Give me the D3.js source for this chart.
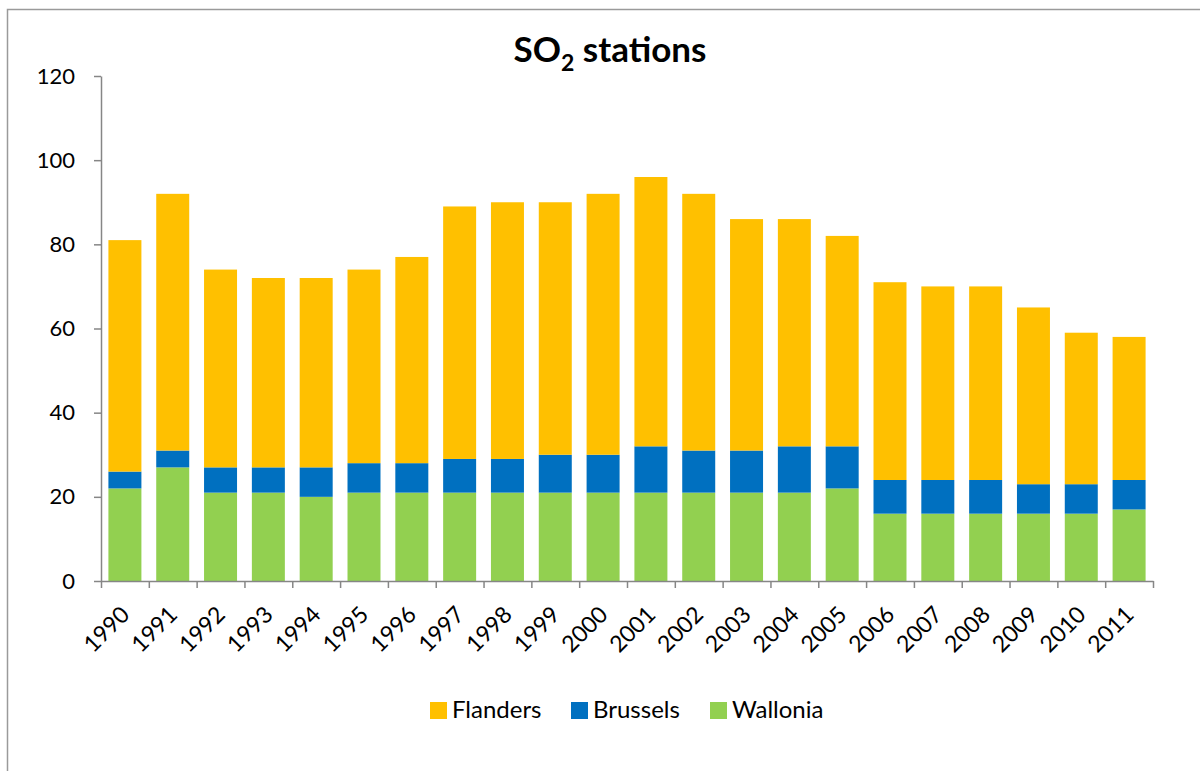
<!DOCTYPE html>
<html>
<head>
<meta charset="utf-8">
<script src="https://cdn.jsdelivr.net/npm/d3@7"></script>
<style>
  html, body { margin: 0; padding: 0; background: #fff; }
  svg { display: block; font-family: Lato, "Liberation Sans", sans-serif; }
</style>
</head>
<body>
<svg id="chart" width="1200" height="771"></svg>
<script>
// Number of SO2 monitoring stations per region
const years = ["1990","1991","1992","1993","1994","1995","1996","1997","1998","1999","2000",
               "2001","2002","2003","2004","2005","2006","2007","2008","2009","2010","2011"];
const wallonia = [22, 27, 21, 21, 20, 21, 21, 21, 21, 21, 21, 21, 21, 21, 21, 22, 16, 16, 16, 16, 16, 17];
const brussels = [ 4,  4,  6,  6,  7,  7,  7,  8,  8,  9,  9, 11, 10, 10, 11, 10,  8,  8,  8,  7,  7,  7];
const flanders = [55, 61, 47, 45, 45, 46, 49, 60, 61, 60, 62, 64, 61, 55, 54, 50, 47, 46, 46, 42, 36, 34];
const yTicks = [0, 20, 40, 60, 80, 100, 120];

const seriesNames = ["Wallonia", "Brussels", "Flanders"];
const colors = { Flanders: "#FFC000", Brussels: "#0070C0", Wallonia: "#92D050" };

const rows = years.map((yr, i) => ({
  year: yr, Wallonia: wallonia[i], Brussels: brussels[i], Flanders: flanders[i]
}));

const svg = d3.select("#chart");
const axisColor = "#868686";

// outer chart frame
svg.append("rect")
  .attr("x", 7.5).attr("y", 9.5)
  .attr("width", 1300).attr("height", 900)
  .attr("fill", "none").attr("stroke", "#9a9a9a").attr("stroke-width", 1.5);

const plotLeft = 101, plotRight = 1153, plotTop = 76, plotBottom = 581;

const x = d3.scaleBand().domain(years).range([plotLeft, plotRight])
  .paddingInner(0.31).paddingOuter(0.155);
const y = d3.scaleLinear().domain([0, 120]).range([plotBottom, plotTop]);

// stacked bars
const stacked = d3.stack().keys(seriesNames)(rows);
svg.append("g").selectAll("g")
  .data(stacked).join("g")
  .attr("fill", d => colors[d.key])
  .selectAll("rect")
  .data(d => d).join("rect")
  .attr("x", d => x(d.data.year))
  .attr("width", x.bandwidth())
  .attr("y", d => y(d[1]))
  .attr("height", d => y(d[0]) - y(d[1]));

// y axis
const yAxis = svg.append("g")
  .attr("transform", `translate(${plotLeft},0)`)
  .call(d3.axisLeft(y).tickValues(yTicks).tickSize(7).tickPadding(19).tickSizeOuter(0));
yAxis.select(".domain").attr("stroke", axisColor).attr("stroke-width", 1.5);
yAxis.selectAll(".tick line").attr("stroke", axisColor).attr("stroke-width", 1.5);
yAxis.selectAll(".tick text")
  .attr("font-family", "Lato, sans-serif").attr("font-size", 22).attr("fill", "#000");

// x axis: tick marks sit on category boundaries
const xEdges = d3.scaleLinear().domain([0, years.length]).range([plotLeft, plotRight]);
const xAxis = svg.append("g")
  .attr("transform", `translate(0,${plotBottom})`)
  .call(d3.axisBottom(xEdges).tickValues(d3.range(0, years.length + 1))
    .tickSize(7).tickSizeOuter(0).tickFormat(""));
xAxis.select(".domain").attr("stroke", axisColor).attr("stroke-width", 1.5);
xAxis.selectAll(".tick line").attr("stroke", axisColor).attr("stroke-width", 1.5);

// rotated year labels
svg.append("g").selectAll("text")
  .data(years).join("text")
  .attr("transform", d => `translate(${x(d) + x.bandwidth() / 2 + 6},${plotBottom + 35}) rotate(-45)`)
  .attr("text-anchor", "end")
  .attr("font-size", 23)
  .attr("fill", "#000")
  .text(d => d);

// title
const title = svg.append("text")
  .attr("x", 610).attr("y", 62)
  .attr("text-anchor", "middle")
  .attr("font-size", 35).attr("font-weight", "bold").attr("fill", "#000");
title.append("tspan").text("SO");
title.append("tspan").attr("font-size", 23).attr("dy", 9).text("2");
title.append("tspan").attr("dy", -9).text(" stations");

// legend
const legendItems = [
  { key: "Flanders", x: 430 },
  { key: "Brussels", x: 571 },
  { key: "Wallonia", x: 710 }
];
const lg = svg.append("g").selectAll("g")
  .data(legendItems).join("g")
  .attr("transform", d => `translate(${d.x},702)`);
lg.append("rect").attr("width", 17).attr("height", 17).attr("fill", d => colors[d.key]);
lg.append("text").attr("x", 22).attr("y", 16)
  .attr("font-size", 24).attr("fill", "#000").text(d => d.key);
</script>
</body>
</html>
